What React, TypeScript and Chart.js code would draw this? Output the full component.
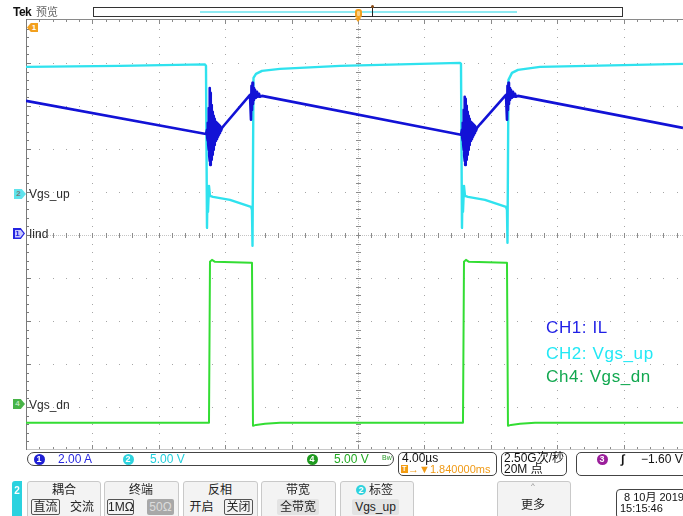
import React, { useEffect, useRef } from "react";
import { Chart, registerables } from "chart.js";

Chart.register(...registerables);

// ---------------- Data (time in µs relative to trigger, 4 µs/div) ----------------
const TIME_START = -20;
const TIME_END = 19.58;
const TIME_PER_DIV = 4;

// CH1: inductor current IL (A), 2 A/div
const ilTime = [
  -20, -9.157,
  -9.096, -9.081, -9.066, -9.051, -9.036, -9.021, -9.006, -8.991, -8.976, -8.961, -8.946, -8.931,
  -8.916, -8.901, -8.886, -8.87, -8.855, -8.84, -8.825, -8.81, -8.795, -8.78, -8.765, -8.75,
  -8.735, -8.72, -8.705, -8.69, -8.675, -8.66, -8.645, -8.63, -8.614, -8.584, -8.554, -8.524,
  -8.494, -8.464, -8.434, -8.404, -8.373, -8.343, -8.313, -8.253, -8.193, -8.012,
  -6.506, -6.446, -6.416, -6.386, -6.355, -6.325, -6.295, -6.265, -6.205, -6.145, -6.084, -6.024, -5.964, -5.904, -5.783,
  6.205,
  6.265, 6.28, 6.295, 6.31, 6.325, 6.34, 6.355, 6.37, 6.385, 6.4, 6.415, 6.43,
  6.445, 6.46, 6.475, 6.491, 6.506, 6.521, 6.536, 6.551, 6.566, 6.581, 6.596, 6.611,
  6.626, 6.641, 6.656, 6.671, 6.686, 6.701, 6.716, 6.731, 6.747, 6.777, 6.807, 6.837,
  6.867, 6.897, 6.927, 6.957, 6.988, 7.018, 7.048, 7.108, 7.168, 7.349,
  8.916, 8.976, 9.006, 9.036, 9.066, 9.096, 9.127, 9.157, 9.217, 9.277, 9.337, 9.398, 9.458, 9.518, 9.639, 19.578,
];
const ilAmps = [
  6.14, 4.6,
  4.79, 4.42, 4.93, 4.28, 5.12, 4.09, 5.35, 3.86, 5.81, 3.58, 6.28, 3.35,
  6.74, 3.16, 6.51, 3.26, 6.19, 3.4, 5.95, 3.53, 5.77, 3.63, 5.63, 3.77,
  5.53, 3.86, 5.44, 4.0, 5.35, 4.09, 5.3, 4.19, 5.26, 4.28, 5.16, 4.37,
  5.12, 4.47, 5.07, 4.56, 5.02, 4.65, 4.98, 4.74, 4.88, 5.05,
  6.42, 5.26, 6.84, 5.72, 6.98, 6.0, 6.74, 6.19, 6.65, 6.28, 6.56, 6.33, 6.47, 6.33, 6.37,
  4.56,
  4.79, 4.42, 4.93, 4.28, 5.12, 4.09, 5.35, 3.86, 5.72, 3.58, 6.09, 3.35,
  6.33, 3.16, 6.23, 3.26, 6.05, 3.4, 5.91, 3.53, 5.77, 3.63, 5.63, 3.77,
  5.53, 3.86, 5.44, 4.0, 5.35, 4.09, 5.3, 4.19, 5.26, 4.28, 5.16, 4.37,
  5.12, 4.47, 5.07, 4.56, 5.02, 4.65, 4.98, 4.74, 4.88, 5.05,
  6.42, 5.26, 6.84, 5.72, 6.98, 6.0, 6.74, 6.19, 6.65, 6.28, 6.56, 6.33, 6.47, 6.33, 6.37, 4.88,
];

// CH2: high-side gate drive Vgs_up (V), 5 V/div
const vgsUpTime = [
  -20, -14.337, -9.217, -9.157, -9.096, -9.066, -9.036, -8.976, -8.916, -8.735, -7.711, -6.446, -6.386, -6.355,
  -6.295, -6.145, -5.783, -4.699, -1.084, 6.145, 6.205, 6.265, 6.295, 6.325, 6.386, 6.446, 6.627, 7.651,
  8.916, 8.976, 9.006, 9.066, 9.277, 9.639, 10.964, 19.578,
];
const vgsUpVolts = [
  14.65, 14.77, 14.94, 14.77, -4.07, 0.35, -2.21, 0.81, -0.35, -0.47, -0.81, -1.63, -1.98, -6.16,
  13.37, 13.84, 14.19, 14.42, 14.77, 15.12, 15.0, -4.07, 0.35, -2.21, 0.81, -0.35, -0.47, -0.81,
  -1.63, -1.98, -5.81, 13.14, 13.95, 14.3, 14.65, 15.0,
];

// CH4: low-side gate drive Vgs_dn (V), 5 V/div
const vgsDnTime = [
  -20, -8.976, -8.916, -8.795, -8.614, -6.446, -6.386, -6.325, -6.145, -5.602, -4.699,
  6.325, 6.386, 6.506, 6.687, 8.916, 8.976, 9.036, 9.217, 9.759, 10.663, 19.578,
];
const vgsDnVolts = [
  -2.09, -2.09, 16.63, 16.86, 16.63, 16.51, 16.51, -2.44, -2.33, -2.21, -2.09,
  -2.09, 16.63, 16.86, 16.63, 16.51, 16.51, -2.44, -2.33, -2.21, -2.09, -2.09,
];

// vertical settings: units per division and ground-marker offset (divisions from centre)
const CH1_PER_DIV = 2;
const CH1_OFFSET = 0.05;
const CH2_PER_DIV = 5;
const CH2_OFFSET = 0.98;
const CH4_PER_DIV = 5;
const CH4_OFFSET = -3.95;

const UI = "'Liberation Sans', 'Noto Sans CJK SC', sans-serif";

const toPoints = (t: number[], v: number[]) => t.map((x, i) => ({ x, y: v[i] }));
const axis = (perDiv: number, off: number) => ({
  type: "linear" as const,
  display: false,
  min: (-5 - off) * perDiv,
  max: (5 - off) * perDiv,
});

const scopeGrid = {
  id: "scopeGrid",
  beforeDatasetsDraw(chart: any) {
    const { ctx, chartArea: a, scales } = chart;
    const xs = scales.x;
    const divW = xs.getPixelForValue(TIME_START + TIME_PER_DIV) - xs.getPixelForValue(TIME_START);
    const divH = (a.bottom - a.top) / 10;
    const L = Math.round(a.left);
    const T = Math.round(a.top);
    const B = Math.round(a.bottom);
    const R = a.right;
    const cx = Math.round(L + 5 * divW);
    const cy = Math.round(T + 5 * divH);
    ctx.save();
    // dotted gridlines
    ctx.fillStyle = "#a6a6a6";
    for (let i = 1; i < 10; i++) {
      const x = Math.round(L + i * divW);
      if (i === 5 || x > R) continue;
      for (let j = 1; j < 50; j++) ctx.fillRect(x, Math.round(T + (j * divH) / 5), 1, 1);
    }
    for (let i = 1; i < 10; i++) {
      if (i === 5) continue;
      const y = Math.round(T + i * divH);
      for (let j = 1; j < 60; j++) {
        const x = Math.round(L + (j * divW) / 5);
        if (x <= R) ctx.fillRect(x, y, 1, 1);
      }
    }
    // centre cross: fine dots + ticks
    ctx.fillStyle = "#c4c4c4";
    for (let y = T; y < B; y += 2) ctx.fillRect(cx, y, 1, 1);
    for (let x = L; x < R; x += 2) ctx.fillRect(x, cy, 1, 1);
    ctx.fillStyle = "#8c8c8c";
    for (let j = 1; j < 50; j++) ctx.fillRect(cx - 2, Math.round(T + (j * divH) / 5), 5, 1);
    for (let j = 1; j < 60; j++) {
      const x = Math.round(L + (j * divW) / 5);
      if (x <= R) ctx.fillRect(x, cy - 2, 1, 5);
    }
    // frame: top, bottom ticks, left
    ctx.fillStyle = "#8a8a8a";
    ctx.fillRect(L, T - 1, R - L, 1);
    ctx.fillStyle = "#c8c8c8";
    ctx.fillRect(L, B - 1, R - L, 1);
    ctx.fillStyle = "#8a8a8a";
    for (let j = 1; j < 60; j++) {
      const x = Math.round(L + (j * divW) / 5);
      if (x > R) break;
      const len = j % 5 === 0 ? 4 : 2;
      ctx.fillRect(x, T, 1, len);
      ctx.fillRect(x, B - 1 - len, 1, len);
    }
    ctx.fillStyle = "#7a7a7a";
    ctx.fillRect(L, T - 1, 1, B - T + 1);
    for (let j = 1; j < 50; j++) ctx.fillRect(L + 1, Math.round(T + (j * divH) / 5), j % 5 === 0 ? 4 : 2, 1);
    ctx.restore();
  },
};

type TxtProps = {
  x: number;
  y: number;
  size?: number;
  color?: string;
  weight?: number;
  anchor?: "left" | "center" | "right";
  family?: string;
  spacing?: number;
  children: React.ReactNode;
};
function Txt({ x, y, size = 12, color = "#222", weight = 400, anchor = "left", family = UI, spacing = 0, children }: TxtProps) {
  const tx = anchor === "center" ? "-50%" : anchor === "right" ? "-100%" : "0";
  return (
    <div
      style={{
        position: "absolute",
        left: x,
        top: y,
        fontSize: size,
        lineHeight: 1,
        color,
        fontWeight: weight,
        fontFamily: family,
        whiteSpace: "nowrap",
        letterSpacing: spacing,
        transform: `translate(${tx},-50%)`,
      }}
    >
      {children}
    </div>
  );
}

function Box(props: { x: number; y: number; w: number; h: number; border?: string; radius?: number; bg?: string; children?: React.ReactNode }) {
  const { x, y, w, h, border = "1px solid #444", radius = 0, bg = "transparent", children } = props;
  return (
    <div
      style={{
        position: "absolute",
        left: x,
        top: y,
        width: w,
        height: h,
        border,
        borderRadius: radius,
        background: bg,
        boxSizing: "border-box",
      }}
    >
      {children}
    </div>
  );
}

function Dot(props: { cx: number; cy: number; r: number; bg: string; label: string; color?: string }) {
  const { cx, cy, r, bg, label, color = "#fff" } = props;
  return (
    <div
      style={{
        position: "absolute",
        left: cx - r,
        top: cy - r,
        width: 2 * r,
        height: 2 * r,
        borderRadius: "50%",
        background: bg,
        color,
        fontSize: 9,
        fontWeight: 700,
        fontFamily: UI,
        lineHeight: `${2 * r}px`,
        textAlign: "center",
      }}
    >
      {label}
    </div>
  );
}

function Marker(props: { x: number; y: number; w: number; h: number; bg: string; inner?: string; label: string; color: string; left?: boolean }) {
  const { x, y, w, h, bg, inner, label, color, left } = props;
  const clip = left
    ? "polygon(35% 0, 100% 0, 100% 100%, 35% 100%, 0 50%)"
    : "polygon(0 0, 65% 0, 100% 50%, 65% 100%, 0 100%)";
  return (
    <div style={{ position: "absolute", left: x, top: y, width: w, height: h, background: bg, clipPath: clip }}>
      {inner ? (
        <div style={{ position: "absolute", left: 1.5, top: 1.5, right: 1.5, bottom: 1.5, background: inner, clipPath: clip }} />
      ) : null}
      <div
        style={{
          position: "absolute",
          left: left ? 3 : 0,
          top: 0,
          width: w - 3,
          height: h,
          lineHeight: `${h}px`,
          textAlign: "center",
          fontSize: 8,
          fontWeight: 700,
          color,
          fontFamily: UI,
        }}
      >
        {label}
      </div>
    </div>
  );
}

function Btn(props: { x: number; w: number; children?: React.ReactNode }) {
  return <Box x={props.x} y={481} w={props.w} h={40} border="1px solid #c9c9c9" radius={3} bg="#f3f3f3">{props.children}</Box>;
}

function Opt(props: { x: number; w: number; label: string; boxed?: boolean; bg?: string; color?: string }) {
  const { x, w, label, boxed, bg, color = "#222" } = props;
  return (
    <div
      style={{
        position: "absolute",
        left: x,
        top: 499,
        width: w,
        height: 16,
        boxSizing: "border-box",
        border: boxed ? "1px solid #555" : "none",
        borderRadius: 2,
        background: bg || "transparent",
        color,
        fontFamily: UI,
        fontSize: 12,
        lineHeight: boxed ? "14px" : "16px",
        textAlign: "center",
        whiteSpace: "nowrap",
      }}
    >
      {label}
    </div>
  );
}

export default function App() {
  const ref = useRef<HTMLCanvasElement>(null);

  useEffect(() => {
    if (!ref.current) return;
    const chart = new Chart(ref.current, {
      type: "line",
      data: {
        datasets: [
          {
            label: "CH1: IL",
            data: toPoints(ilTime, ilAmps),
            yAxisID: "yIL",
            borderColor: "#1212d6",
            borderWidth: 2.6,
            pointRadius: 0,
            order: 0,
          },
          {
            label: "CH2: Vgs_up",
            data: toPoints(vgsUpTime, vgsUpVolts),
            yAxisID: "yUp",
            borderColor: "#2fe2ee",
            borderWidth: 2.4,
            pointRadius: 0,
            order: 1,
          },
          {
            label: "Ch4: Vgs_dn",
            data: toPoints(vgsDnTime, vgsDnVolts),
            yAxisID: "yDn",
            borderColor: "#33dd33",
            borderWidth: 2,
            pointRadius: 0,
            order: 2,
          },
        ],
      },
      options: {
        responsive: false,
        animation: false,
        events: [],
        layout: { padding: { left: 26, top: 20, right: 0, bottom: 66 } },
        elements: { line: { tension: 0, borderJoinStyle: "round" } },
        scales: {
          x: { type: "linear", display: false, min: TIME_START, max: TIME_END },
          yIL: axis(CH1_PER_DIV, CH1_OFFSET),
          yUp: axis(CH2_PER_DIV, CH2_OFFSET),
          yDn: axis(CH4_PER_DIV, CH4_OFFSET),
        },
        plugins: { legend: { display: false }, tooltip: { enabled: false }, title: { display: false } },
      },
      plugins: [scopeGrid],
    } as any);
    return () => chart.destroy();
  }, []);

  return (
    <div
      style={{
        position: "absolute",
        left: 0,
        top: 0,
        width: 683,
        height: 516,
        overflow: "hidden",
        background: "#fff",
        fontFamily: UI,
      }}
    >
      <canvas ref={ref} width={683} height={516} style={{ position: "absolute", left: 0, top: 0, width: 683, height: 516 }} />

      {/* top status bar */}
      <Txt x={13} y={12} size={12} weight={700} color="#111" spacing={-0.5}>Tek</Txt>
      <Txt x={36} y={12} size={11} color="#666">预览</Txt>
      <Box x={93} y={7} w={530} h={10} border="1px solid #333" bg="#fff" />
      <div style={{ position: "absolute", left: 200, top: 11, width: 317, height: 2, background: "#8eeaf2" }} />
      <div style={{ position: "absolute", left: 355, top: 9, width: 7, height: 9, borderRadius: 3, background: "#f2a01e" }} />
      <div style={{ position: "absolute", left: 357, top: 11, width: 3, height: 5, borderRadius: 1, background: "#fbd38a" }} />
      <div style={{ position: "absolute", left: 355, top: 18, width: 0, height: 0, borderLeft: "3.5px solid transparent", borderRight: "3.5px solid transparent", borderTop: "4px solid #f2a01e" }} />
      <div style={{ position: "absolute", left: 372, top: 7, width: 1, height: 10, background: "#222" }} />
      <div style={{ position: "absolute", left: 371, top: 5, width: 3, height: 3, borderRadius: 2, background: "#8a4a14" }} />

      {/* channel markers */}
      <Marker x={27} y={23} w={11} h={9} bg="#f2a01e" label="1" color="#fff" left />
      <Marker x={14} y={189} w={12} h={10} bg="#5fe3ec" label="2" color="#7a7a7a" />
      <Txt x={29} y={194} size={12} color="#2a2a2a">Vgs_up</Txt>
      <Marker x={13} y={228} w={12} h={11} bg="#2424e0" inner="#c9c9ff" label="1" color="#2424e0" />
      <Txt x={29} y={233.5} size={12} color="#2a2a2a">Iind</Txt>
      <Marker x={13} y={399} w={12} h={10} bg="#47b347" label="4" color="#b9e6b9" />
      <Txt x={29} y={404.5} size={12} color="#2a2a2a">Vgs_dn</Txt>

      {/* annotation */}
      <Txt x={546} y={327} size={17} color="#1f1fe6" spacing={0.6}>CH1: IL</Txt>
      <Txt x={546} y={352.5} size={17} color="#22e8f5" spacing={0.6}>CH2: Vgs_up</Txt>
      <Txt x={546} y={376} size={17} color="#12a850" spacing={0.6}>Ch4: Vgs_dn</Txt>

      {/* channel readout bar */}
      <Box x={27} y={452} w={367} h={14} border="1px solid #444" radius={7} />
      <Dot cx={39} cy={459} r={5.5} bg="#2020d4" label="1" />
      <Txt x={58} y={459} size={12} color="#2a2ae0">2.00 A</Txt>
      <Dot cx={128} cy={459} r={5.5} bg="#2fd3de" label="2" />
      <Txt x={150} y={459} size={12} color="#22cfdc">5.00 V</Txt>
      <Dot cx={312} cy={459} r={5.5} bg="#1f9a1f" label="4" />
      <Txt x={334} y={459} size={12} color="#22aa22">5.00 V</Txt>
      <Txt x={382} y={457} size={7} color="#2a9a2a">Bw</Txt>

      <Box x={398} y={452} w={99} h={24} border="1px solid #444" radius={5} />
      <Txt x={402} y={458} size={12} color="#111">4.00µs</Txt>
      <div style={{ position: "absolute", left: 401, top: 465, width: 7, height: 8, background: "#f39c12", color: "#fff", fontSize: 7, lineHeight: "8px", textAlign: "center", fontWeight: 700 }}>T</div>
      <Txt x={408} y={469} size={11} color="#f09a16">→▼1.840000ms</Txt>

      <Box x={501} y={452} w={66} h={24} border="1px solid #444" radius={5} />
      <Txt x={504} y={458} size={12} color="#111">2.50G次/秒</Txt>
      <Txt x={504} y={469} size={12} color="#111">20M 点</Txt>

      <Box x={576} y={452} w={130} h={24} border="1px solid #444" radius={5} />
      <Dot cx={602} cy={459} r={5.5} bg="#9b1f9b" label="3" />
      <Txt x={621} y={459} size={12} color="#111" weight={700}>∫</Txt>
      <Txt x={641} y={459} size={12} color="#111">−1.60 V</Txt>

      {/* menu bar */}
      <div style={{ position: "absolute", left: 12, top: 481, width: 10, height: 35, background: "#2bd2df", borderRadius: "3px 0 0 0" }} />
      <Txt x={17} y={491} size={10} color="#fff" anchor="center" weight={700}>2</Txt>

      <Btn x={27} w={74} />
      <Txt x={64} y={490} anchor="center">耦合</Txt>
      <Opt x={31} w={29} label="直流" boxed />
      <Opt x={68} w={28} label="交流" />

      <Btn x={104} w={75} />
      <Txt x={141} y={490} anchor="center">终端</Txt>
      <Opt x={107} w={27} label="1MΩ" boxed />
      <Opt x={147} w={27} label="50Ω" bg="#a8a8a8" color="#dcdcdc" />

      <Btn x={183} w={75} />
      <Txt x={220} y={490} anchor="center">反相</Txt>
      <Opt x={188} w={27} label="开启" />
      <Opt x={224} w={29} label="关闭" boxed />

      <Btn x={261} w={75} />
      <Txt x={298} y={490} anchor="center">带宽</Txt>
      <Opt x={277} w={42} label="全带宽" bg="#e3e3e3" />

      <Btn x={340} w={74} />
      <Dot cx={361} cy={490} r={5} bg="#2fd3de" label="2" />
      <Txt x={369} y={490}>标签</Txt>
      <Opt x={352} w={47} label="Vgs_up" bg="#e3e3e3" />

      <Btn x={497} w={74} />
      <Txt x={533} y={486} anchor="center" size={8} color="#888">^</Txt>
      <Txt x={533} y={505} anchor="center">更多</Txt>

      <Box x={616} y={489} w={80} h={30} border="1px solid #444" radius={4} />
      <Txt x={624} y={497} size={11} color="#111">8 10月 2019</Txt>
      <Txt x={620} y={508} size={11} color="#111">15:15:46</Txt>
    </div>
  );
}
